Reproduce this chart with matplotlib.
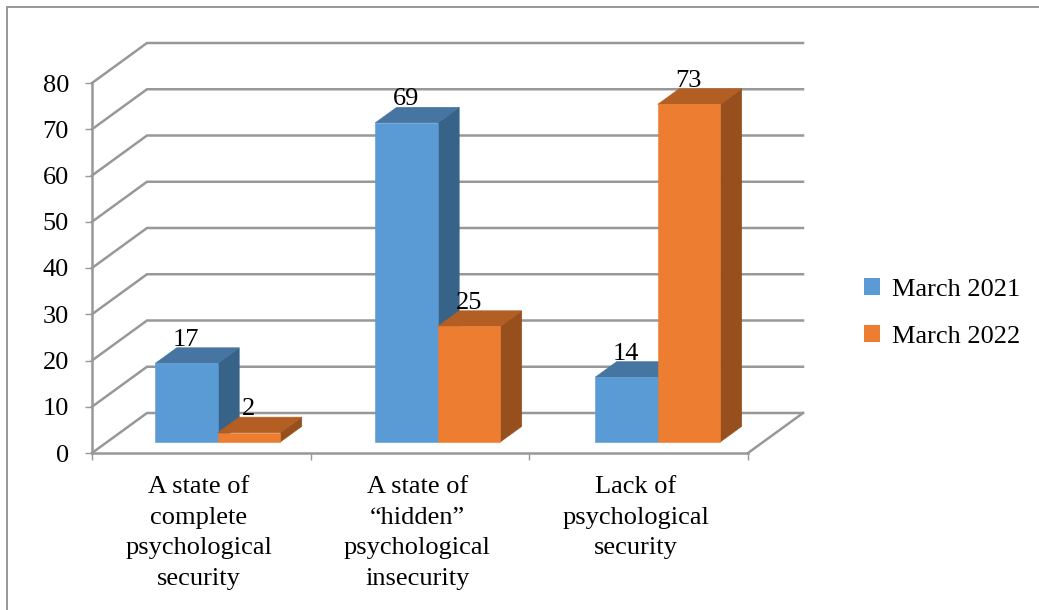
# 3D style clustered bars, drawn as flat polygons on a normal axes

import matplotlib
matplotlib.use('Agg')
import matplotlib.pyplot as plt
from matplotlib.patches import Patch, Polygon, Rectangle

categories = ['A state of\ncomplete\npsychological\nsecurity',
              'A state of\n\u201chidden\u201d\npsychological\ninsecurity',
              'Lack of\npsychological\nsecurity']
march_2021 = [17, 69, 14]
march_2022 = [2, 25, 73]
series_names = ['March 2021', 'March 2022']
y_ticks = [0, 10, 20, 30, 40, 50, 60, 70, 80]

W, H = 1039, 610
GRAY = '#989898'

# how far the back wall sits from the front plane, in data units
DX = 55 / 656 * 3
DY = 40 / 370 * 80
# bar depth positions, 0 = front plane, 1 = back wall
D0, D1 = 0.275, 0.665
BAR_W = 0.286
SHIFT = 0.012
GROUP_STEP = 1.006

plt.rcParams['font.family'] = ['Liberation Serif', 'DejaVu Serif']
plt.rcParams['font.size'] = 19

fig = plt.figure(figsize=(W / 100, H / 100), dpi=100)
ax = fig.add_axes([92 / W, (H - 453) / H, 656 / W, 370 / H])
ax.set_xlim(0, 3)
ax.set_ylim(0, 80)

def back(x, y, d):
    return (x + d * DX, y + d * DY)

# chart frame, only left and top show in the picture
fig.add_artist(Rectangle((7 / W, -0.1), 1.2, 0.1 + (H - 6.5) / H, transform=fig.transFigure,
                         fill=False, edgecolor=GRAY, linewidth=1.4))

# left wall and back wall grid lines
for v in y_ticks:
    a = back(0, v, 0)
    b = back(0, v, 1)
    c = back(3, v, 1)
    ax.plot([a[0], b[0], c[0]], [a[1], b[1], c[1]], color=GRAY, lw=1.8, clip_on=False, zorder=1,
            solid_joinstyle='miter')
# floor edge on the right
a = back(3, 0, 0)
b = back(3, 0, 1)
ax.plot([a[0], b[0]], [a[1], b[1]], color=GRAY, lw=1.8, clip_on=False, zorder=1)

def bar3d(x0, x1, v, front, top, side):
    f = [back(x0, 0, D0), back(x1, 0, D0), back(x1, v, D0), back(x0, v, D0)]
    t = [back(x0, v, D0), back(x1, v, D0), back(x1, v, D1), back(x0, v, D1)]
    s = [back(x1, 0, D0), back(x1, 0, D1), back(x1, v, D1), back(x1, v, D0)]
    for pts, col in ((s, side), (t, top), (f, front)):
        ax.add_patch(Polygon(pts, closed=True, facecolor=col, edgecolor=col, lw=0.4,
                             clip_on=False, zorder=3))

styles = [('#5b9bd5', '#4675a1', '#376388'),
          ('#ed7d31', '#b35e22', '#964f1d')]

for i in range(len(categories)):
    mid = 1.5 + SHIFT + (i - 1) * GROUP_STEP
    bar3d(mid - BAR_W, mid, march_2021[i], *styles[0])
    bar3d(mid, mid + BAR_W, march_2022[i], *styles[1])
    for x, v in ((mid - BAR_W / 2, march_2021[i]), (mid + BAR_W / 2, march_2022[i])):
        lx, ly = back(x, v, D0)
        ax.text(lx - 0.001, v + D1 * DY + 0.4, str(v), ha='center', va='baseline', color='black', zorder=5)
    ax.text(i + 0.488, -4.9, categories[i], ha='center', va='top', linespacing=1.52, color='black',
            clip_on=False)

ax.set_yticks(y_ticks)
ax.set_xticks([0, 1, 2, 3])
ax.set_xticklabels([])
ax.tick_params(axis='y', length=5, width=1.0, color=GRAY, pad=11.5, labelcolor='black')
ax.tick_params(axis='x', length=5, width=1.0, color=GRAY)
for name in ('top', 'right'):
    ax.spines[name].set_visible(False)
for name in ('left', 'bottom'):
    ax.spines[name].set_color(GRAY)
    ax.spines[name].set_linewidth(1.8)
    ax.spines[name].set_zorder(2)
ax.patch.set_visible(False)

handles = [Patch(facecolor=styles[0][0], edgecolor='none'), Patch(facecolor=styles[1][0], edgecolor='none')]
fig.legend(handles, series_names, loc='center left', bbox_to_anchor=(856 / W, (H - 313) / H),
           frameon=False, handlelength=0.61, handleheight=0.61, handletextpad=0.45,
           labelspacing=0.92, borderpad=0.3, borderaxespad=0)

fig.savefig('out.png', dpi=100)
